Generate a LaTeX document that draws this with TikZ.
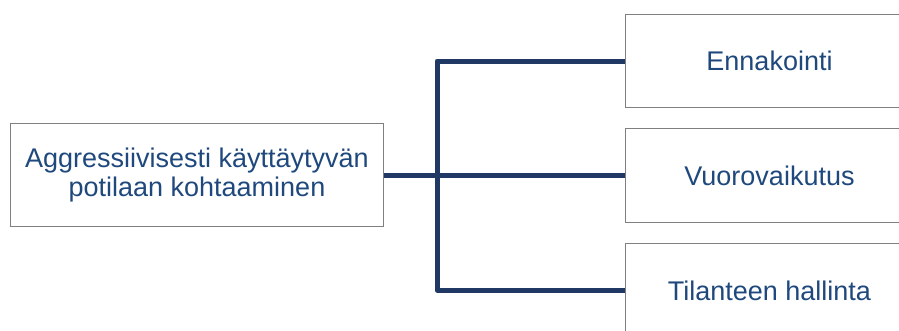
\documentclass[tikz,border=0pt]{standalone}
\usepackage{fontspec}
\setmainfont{Liberation Sans}
\definecolor{txtblue}{RGB}{31,73,125}
\definecolor{linenavy}{RGB}{31,56,100}
\definecolor{boxgray}{RGB}{128,128,128}
\begin{document}
\begin{tikzpicture}[x=1pt,y=-1pt,
  box/.style={draw=boxgray,line width=1pt,fill=white,text=txtblue,
    font=\fontsize{27}{28.5}\selectfont,align=center,inner sep=0pt,anchor=north west},
  conn/.style={draw=linenavy,line width=5pt}]
\useasboundingbox (0,0) rectangle (899,330);
\begin{scope}
\clip (0,0) rectangle (899,330);
\node[box,minimum width=373pt,minimum height=103pt] (src) at (10,123) {Aggressiivisesti käyttäytyvän\\potilaan kohtaaminen};
\node[box,minimum width=288pt,minimum height=93pt] (a) at (625,14) {Ennakointi};
\node[box,minimum width=288pt,minimum height=94pt] (b) at (625,128) {Vuorovaikutus};
\node[box,minimum width=288pt,minimum height=94pt] (c) at (625,243) {Tilanteen hallinta};
\coordinate (j) at (437,175);
\draw[conn] (src.east |- j) -- (j);
\draw[conn,line join=round] (a.west |- 0,61) -- (437,61) -- (437,290) -- (c.west |- 0,290);
\draw[conn] (j) -- (b.west |- j);
\end{scope}
\end{tikzpicture}
\end{document}
